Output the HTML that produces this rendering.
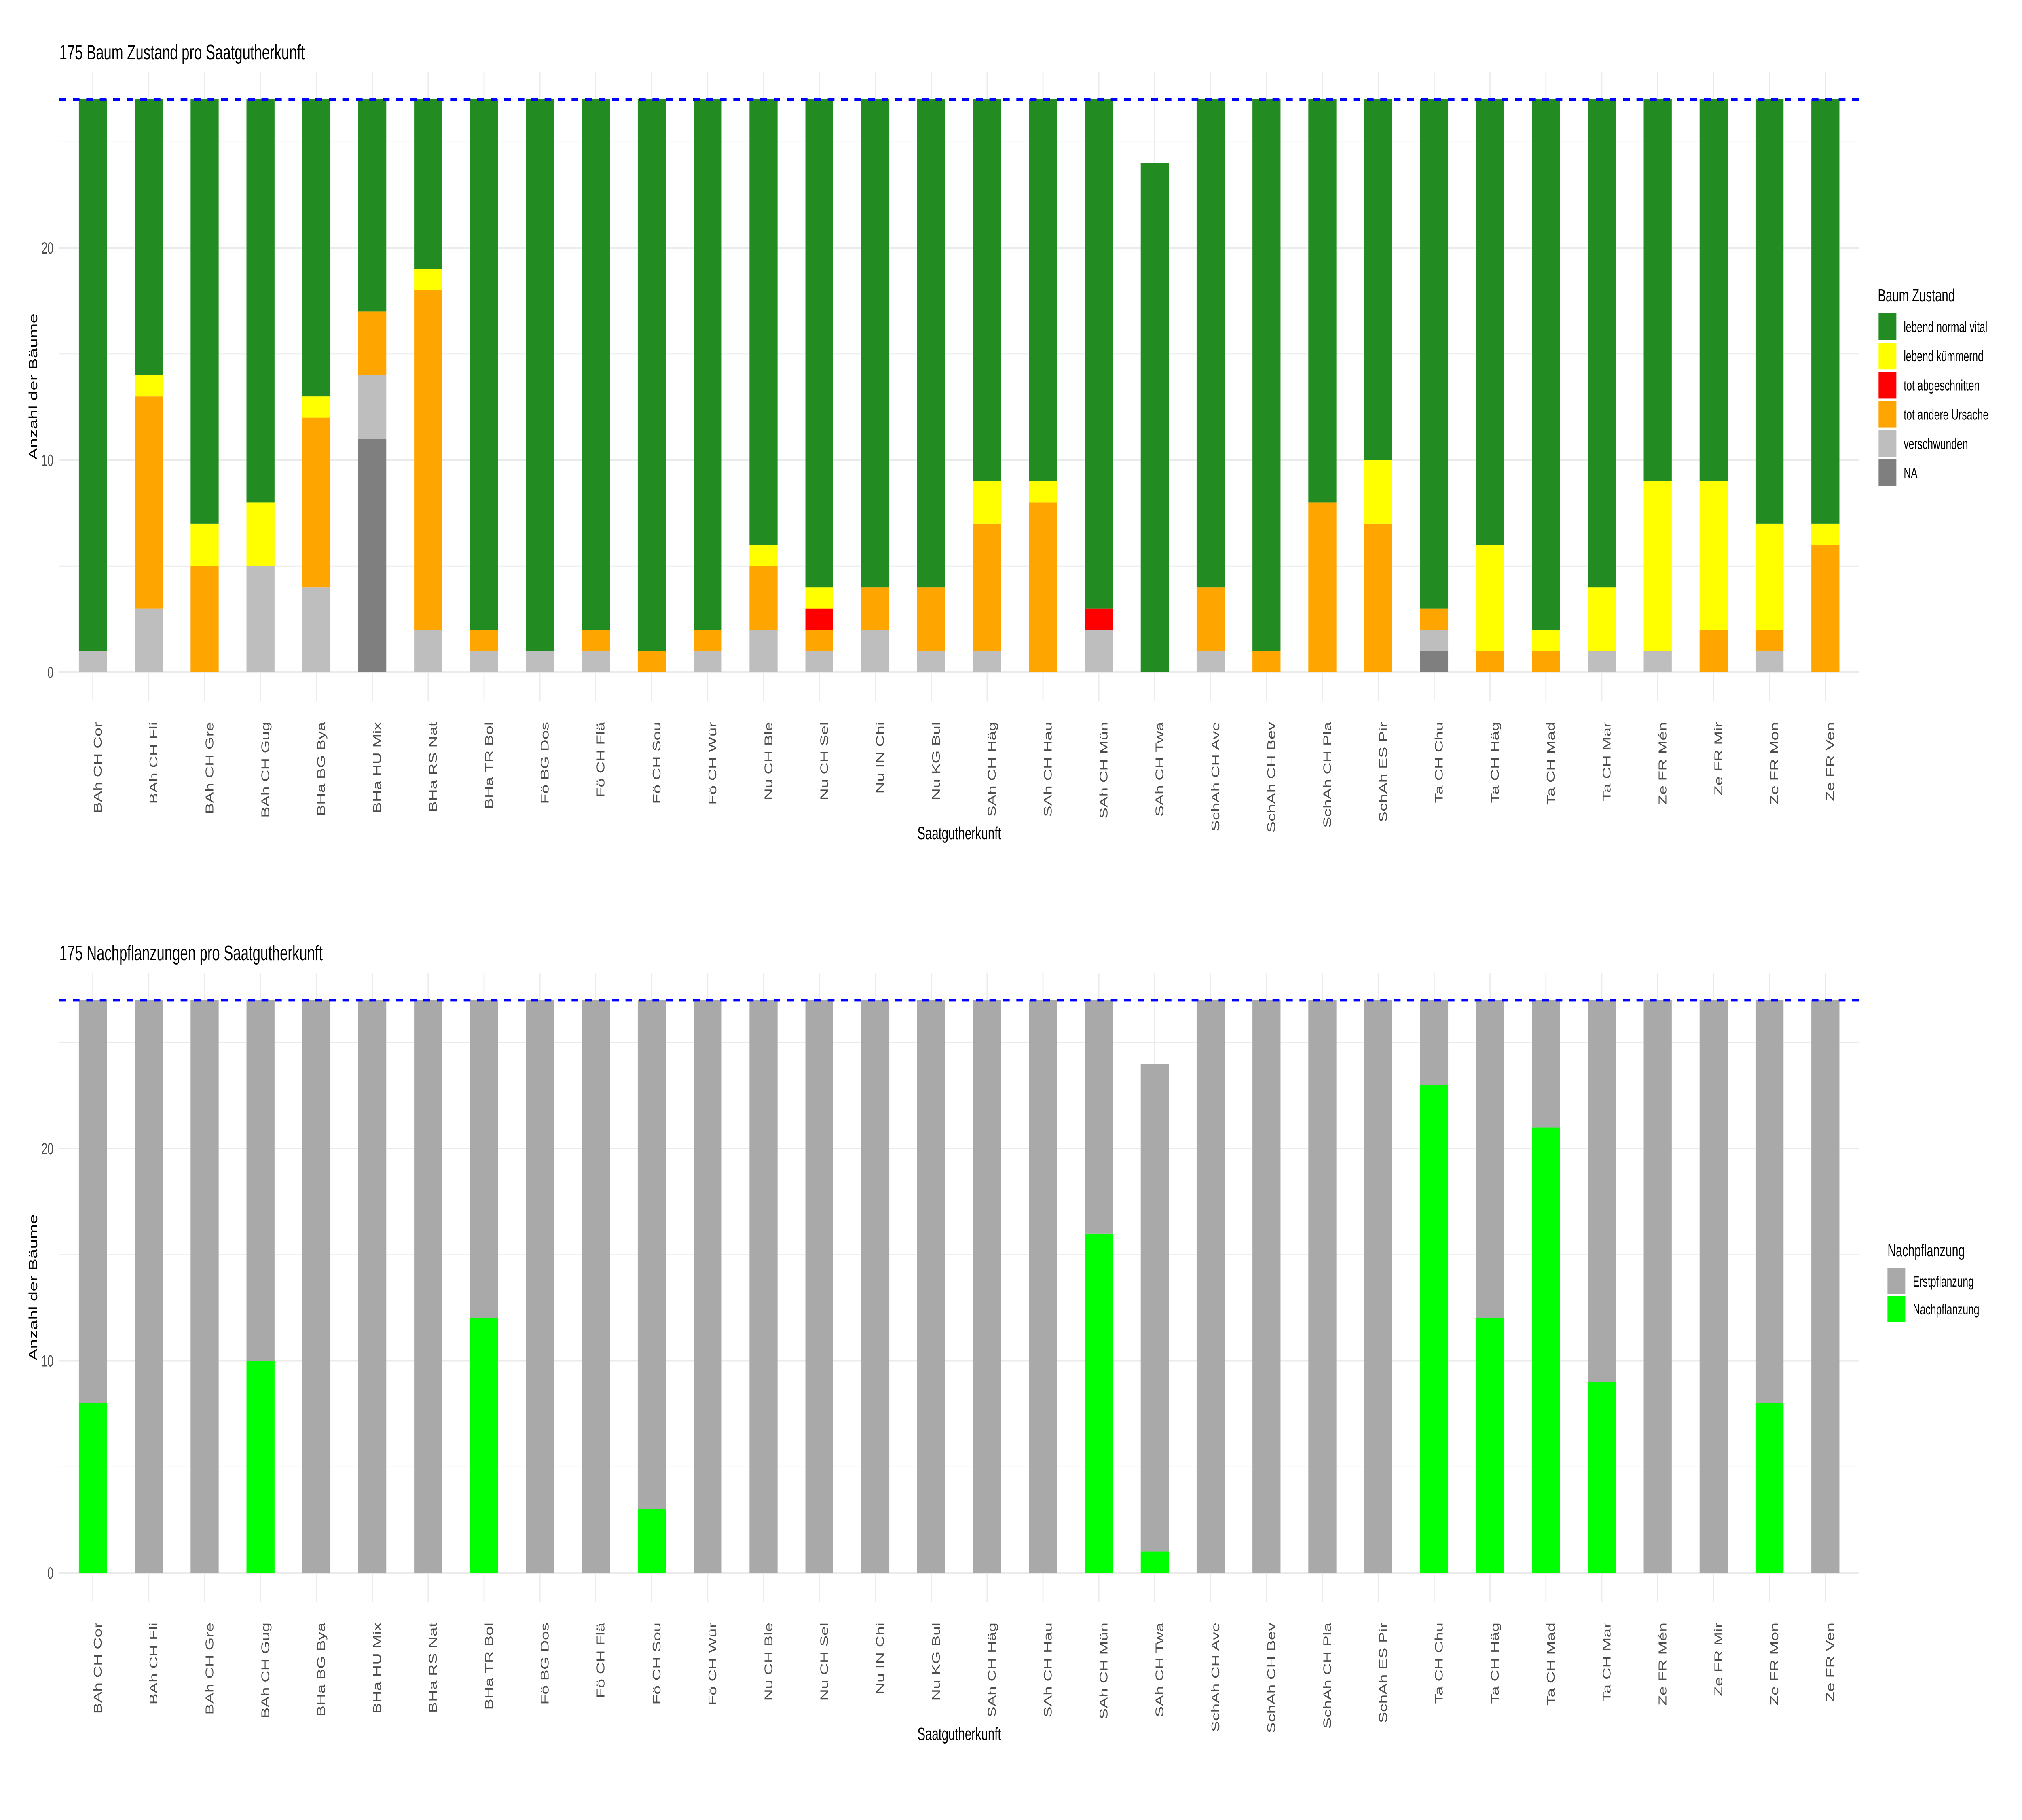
<!DOCTYPE html>
<html><head><meta charset="utf-8"><style>
html,body{margin:0;padding:0;background:#fff;overflow:hidden;width:100vw;height:100vh;}
svg{display:block;position:absolute;left:0;top:0;width:100vw;height:100vh;font-family:"Liberation Sans",Arial,sans-serif;}
</style></head><body>
<svg id="s" viewBox="0 0 7500 4500" preserveAspectRatio="none" xmlns="http://www.w3.org/2000/svg"></svg>
<script>
const cats=["BAh CH Cor","BAh CH Fli","BAh CH Gre","BAh CH Gug","BHa BG Bya","BHa HU Mix","BHa RS Nat","BHa TR Bol","Fö BG Dos","Fö CH Flä","Fö CH Sou","Fö CH Wür","Nu CH Ble","Nu CH Sel","Nu IN Chi","Nu KG Bul","SAh CH Häg","SAh CH Hau","SAh CH Mün","SAh CH Twa","SchAh CH Ave","SchAh CH Bev","SchAh CH Pla","SchAh ES Pir","Ta CH Chu","Ta CH Häg","Ta CH Mad","Ta CH Mar","Ze FR Mén","Ze FR Mir","Ze FR Mon","Ze FR Ven"];
const d1=[[0,1,0,0,0],[0,3,10,0,1],[0,0,5,0,2],[0,5,0,0,3],[0,4,8,0,1],[11,3,3,0,0],[0,2,16,0,1],[0,1,1,0,0],[0,1,0,0,0],[0,1,1,0,0],[0,0,1,0,0],[0,1,1,0,0],[0,2,3,0,1],[0,1,1,1,1],[0,2,2,0,0],[0,1,3,0,0],[0,1,6,0,2],[0,0,8,0,1],[0,2,0,1,0],[0,0,0,0,0],[0,1,3,0,0],[0,0,1,0,0],[0,0,8,0,0],[0,0,7,0,3],[1,1,1,0,0],[0,0,1,0,5],[0,0,1,0,1],[0,1,0,0,3],[0,1,0,0,8],[0,0,2,0,7],[0,1,1,0,5],[0,0,6,0,1]];
const tot=cats.map(c=>c=="SAh CH Twa"?24:27);
const cols1=["#7f7f7f","#bebebe","#ffa500","#ff0000","#ffff00","#228b22"];
const np={"BAh CH Cor":8,"BAh CH Gug":10,"BHa TR Bol":12,"Fö CH Sou":3,"SAh CH Mün":16,"SAh CH Twa":1,"Ta CH Chu":23,"Ta CH Häg":12,"Ta CH Mad":21,"Ta CH Mar":9,"Ze FR Mon":8};
const L=220,R=6896,step=207.3,bw=104,u=52.45;
let o="";
function cx(i){return L+(0.6+i)*step;}
function panel(off,title,kind){
  const y0=1662+off, top=179+off, bot=1733+off;
  const Y=v=>y0-v*u;
  for(const v of [5,15,25]) o+=`<line x1="${L}" x2="${R}" y1="${Y(v)}" y2="${Y(v)}" stroke="#ebebeb" stroke-width="2"/>`;
  for(const v of [0,10,20]) o+=`<line x1="${L}" x2="${R}" y1="${Y(v)}" y2="${Y(v)}" stroke="#ebebeb" stroke-width="4"/>`;
  cats.forEach((c,i)=>{o+=`<line x1="${cx(i)}" x2="${cx(i)}" y1="${top}" y2="${bot}" stroke="#ebebeb" stroke-width="4"/>`;});
  cats.forEach((c,i)=>{
    const x=cx(i)-bw/2;
    let segs=[];
    if(kind==1){const r=d1[i];let s=r.reduce((a,b)=>a+b,0);segs=r.map((v,k)=>[v,cols1[k]]);segs.push([tot[i]-s,cols1[5]]);}
    else{const g=np[c]||0;segs=[[g,"#00ff00"],[tot[i]-g,"#a9a9a9"]];}
    let acc=0;
    for(const [v,col] of segs){if(v>0){o+=`<rect x="${x}" y="${Y(acc+v)}" width="${bw}" height="${v*u}" fill="${col}"/>`;}acc+=v;}
  });
  o+=`<line x1="${L}" x2="${R}" y1="${Y(27)}" y2="${Y(27)}" stroke="#0000ff" stroke-width="7" stroke-dasharray="25 25"/>`;
  for(const v of [0,10,20]) o+=`<text x="198" y="${Y(v)+14}" font-size="40" fill="#4d4d4d" text-anchor="end">${v}</text>`;
  cats.forEach((c,i)=>{const x=cx(i)+32,y=1785+off;o+=`<text transform="translate(${x},${y}) rotate(-90)" font-size="41" fill="#4d4d4d" text-anchor="end">${c}</text>`;});
  o+=`<text x="220" y="${147+off}" font-size="52" fill="#000">${title}</text>`;
  o+=`<text x="3558" y="${2075+off}" font-size="44" fill="#000" text-anchor="middle">Saatgutherkunft</text>`;
  o+=`<text transform="translate(138,${956+off}) rotate(-90)" font-size="44" fill="#000" text-anchor="middle">Anzahl der Bäume</text>`;
}
panel(0,"175 Baum Zustand pro Saatgutherkunft",1);
panel(2227,"175 Nachpflanzungen pro Saatgutherkunft",2);
o+=`<text x="6965" y="745" font-size="44" fill="#000">Baum Zustand</text>`;
const lg1=[["lebend normal vital","#228b22"],["lebend kümmernd","#ffff00"],["tot abgeschnitten","#ff0000"],["tot andere Ursache","#ffa500"],["verschwunden","#bebebe"],["NA","#7f7f7f"]];
lg1.forEach((e,k)=>{const y=775+k*72.2;o+=`<rect x="6968" y="${y}" width="66" height="66" fill="${e[1]}"/><text x="7061" y="${y+46}" font-size="37" fill="#000">${e[0]}</text>`;});
o+=`<text x="7001" y="3106" font-size="43" fill="#000">Nachpflanzung</text>`;
[["Erstpflanzung","#a9a9a9"],["Nachpflanzung","#00ff00"]].forEach((e,k)=>{const y=3135+k*69;o+=`<rect x="7001" y="${y}" width="66" height="64" fill="${e[1]}"/><text x="7095" y="${y+46}" font-size="37" fill="#000">${e[0]}</text>`;});
document.getElementById("s").innerHTML=o;
</script>
</body></html>
